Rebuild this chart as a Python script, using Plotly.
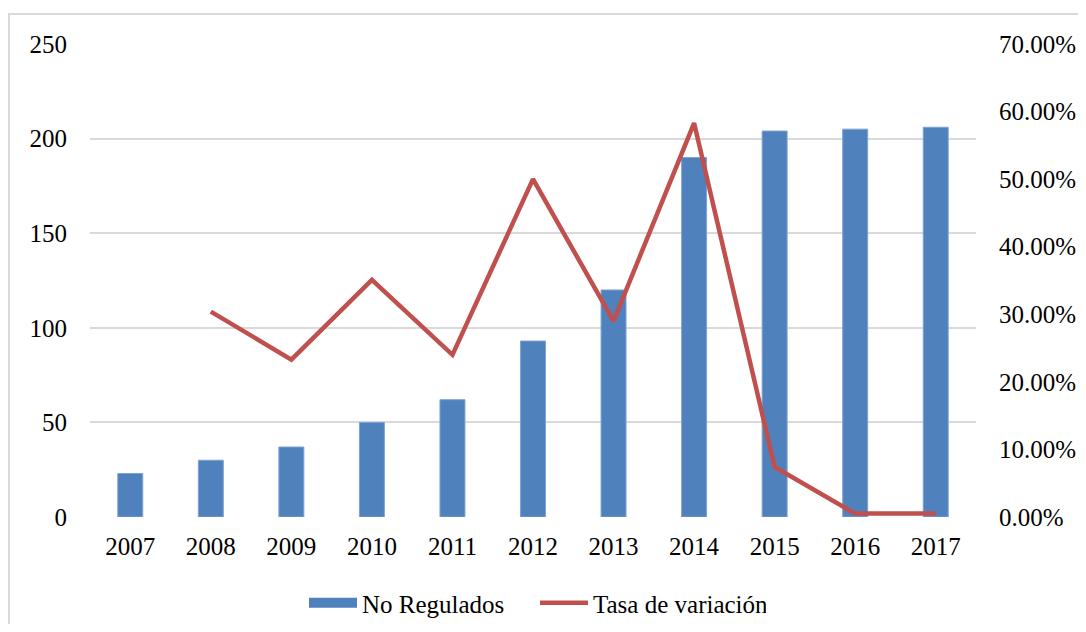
import plotly.graph_objects as go

years = ["2007", "2008", "2009", "2010", "2011", "2012", "2013", "2014", "2015", "2016", "2017"]
no_regulados = [23, 30, 37, 50, 62, 93, 120, 190, 204, 205, 206]
tasa_variacion = [None, 0.304, 0.233, 0.351, 0.240, 0.500, 0.290, 0.583, 0.074, 0.005, 0.005]

left_ticks = [0, 50, 100, 150, 200, 250]
right_ticks = [0, 0.1, 0.2, 0.3, 0.4, 0.5, 0.6, 0.7]

FONT = "Liberation Serif"
BLUE = "#4f81bd"
RED = "#c0504d"

fig = go.Figure()
fig.add_trace(go.Bar(
    x=years, y=no_regulados, name="No Regulados",
    marker=dict(color=BLUE, line=dict(color="#7ea3d3", width=1)),
    yaxis="y", showlegend=False,
))
# legend-only entry drawn as a wide block, like the reference's swatch
fig.add_trace(go.Scatter(
    x=[None], y=[None], name="No Regulados", mode="lines",
    line=dict(color=BLUE, width=11), yaxis="y",
))
fig.add_trace(go.Scatter(
    x=years, y=tasa_variacion, name="Tasa de variación",
    mode="lines", line=dict(color=RED, width=4.5),
    yaxis="y2", connectgaps=False,
))

# page body has an 8px margin: figure placed at (8, 8)
W, H = 1070, 616
L, T = 82, 36
R = W - 968
B = H - 509
pw, ph = W - L - R, H - T - B

fig.update_layout(
    width=W, height=H,
    margin=dict(l=L, r=R, t=T, b=B, pad=0),
    paper_bgcolor="white", plot_bgcolor="white",
    font=dict(family=FONT, size=25, color="#000000"),
    bargap=0.69,
    showlegend=True,
    legend=dict(orientation="h", xref="container", yref="container",
                x=(306 - 10) / W, xanchor="left", y=1 - (595) / H, yanchor="middle",
                font=dict(family=FONT, size=25), itemwidth=48,
                entrywidth=168, entrywidthmode="pixels",
                bgcolor="rgba(0,0,0,0)", borderwidth=0),
    xaxis=dict(showgrid=False, showline=False, zeroline=False, ticks="",
               tickfont=dict(family=FONT, size=25), ticklabelstandoff=12,
               automargin=False),
    yaxis=dict(range=[0, 250], tickvals=left_ticks, showgrid=True,
               gridcolor="#d9d9d9", gridwidth=2, zeroline=False, showline=False,
               ticks="", tickfont=dict(family=FONT, size=25), ticklabelstandoff=22,
               automargin=False),
    yaxis2=dict(range=[0, 0.7], tickvals=right_ticks, tickformat=".2%",
                overlaying="y", side="right", showgrid=False, zeroline=False,
                showline=False, ticks="", tickfont=dict(family=FONT, size=25),
                ticklabelstandoff=22, automargin=False),
    shapes=[dict(type="rect", xref="paper", yref="paper",
                 x0=(1 - L) / pw, x1=(W + 20 - L) / pw,
                 y0=-(B + 30) / ph, y1=1 + (T - 6) / ph,
                 line=dict(color="#d9d9d9", width=2), fillcolor="rgba(0,0,0,0)",
                 layer="below")],
)
fig.write_html("out.html")
